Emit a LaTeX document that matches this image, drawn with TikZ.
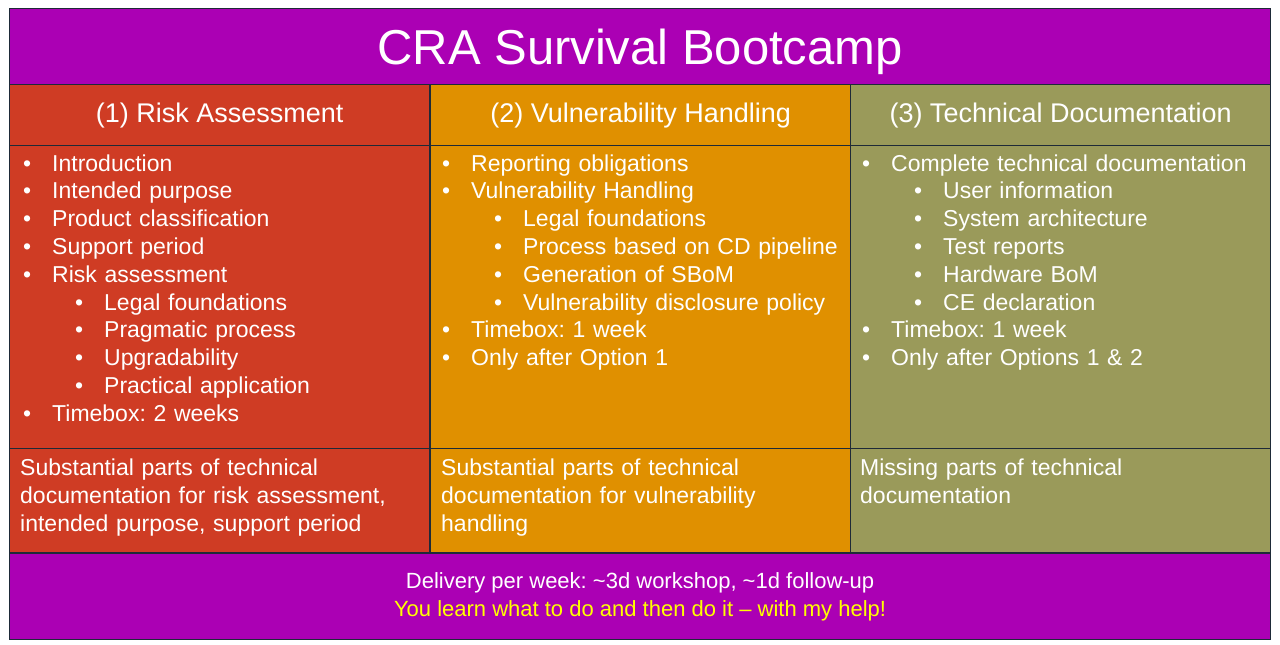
\documentclass[tikz,border=0pt]{standalone}
\usepackage{fontspec}
\setmainfont{Liberation Sans}
\usepackage{enumitem}
\setlist[itemize,1]{label=\textbullet, align=left, labelindent=0pt, labelwidth=14pt, labelsep=15pt, leftmargin=!, itemsep=0pt, topsep=0pt, parsep=0pt, partopsep=0pt}
\setlist[itemize,2]{label=\textbullet, align=left, labelindent=23pt, labelwidth=14pt, labelsep=15pt, leftmargin=!, itemsep=0pt, topsep=0pt, parsep=0pt, partopsep=0pt}
\frenchspacing

\definecolor{bootpurple}{HTML}{AB00B4}
\definecolor{riskred}{HTML}{CF3C24}
\definecolor{vulnorange}{HTML}{E09000}
\definecolor{docolive}{HTML}{9A9A5A}
\definecolor{gridline}{HTML}{1E2A38}
\definecolor{helpyellow}{HTML}{FFFF00}

\begin{document}
\begin{tikzpicture}[x=1pt, y=-1pt,
  cell/.style = {draw=gridline, line width=1.2pt, inner sep=0pt, anchor=north west, text=white},
  titlecell/.style = {cell, fill=bootpurple, minimum width=1261pt, minimum height=76pt, font=\fontsize{49}{56}\selectfont},
  headcell/.style = {cell, minimum width=420pt, minimum height=61pt, font=\fontsize{27}{32}\selectfont},
  bodycell/.style = {cell, minimum width=420pt, minimum height=303pt},
  outcell/.style = {cell, minimum width=420pt, minimum height=104pt},
  footcell/.style = {cell, fill=bootpurple, minimum width=1261pt, minimum height=86pt, align=center, font=\fontsize{22}{28}\selectfont},
  listtext/.style = {anchor=north west, inner sep=0pt, text=white, text width=400pt, align=left, font=\fontsize{23}{27.8}\selectfont},
  outtext/.style = {listtext},
  ]
  \useasboundingbox (0,0) rectangle (1280,645);

  \node[titlecell, text depth=0pt, text height=36pt] (title) at (9,8) {CRA Survival Bootcamp};

  \node[headcell, fill=riskred] (headA) at (9,84) {(1) Risk Assessment};
  \node[headcell, fill=vulnorange] (headB) at (430,84) {(2) Vulnerability Handling};
  \node[headcell, fill=docolive] (headC) at (850,84) {(3) Technical Documentation};

  \node[bodycell, fill=riskred] (bodyA) at (9,145) {};
  \node[bodycell, fill=vulnorange] (bodyB) at (430,145) {};
  \node[bodycell, fill=docolive] (bodyC) at (850,145) {};

  \node[outcell, fill=riskred] (outA) at (9,448) {};
  \node[outcell, fill=vulnorange] (outB) at (430,448) {};
  \node[outcell, fill=docolive] (outC) at (850,448) {};

  \node[footcell] (delivery) at (9,553) {Delivery per week: \textasciitilde3d workshop, \textasciitilde1d follow-up\\
    \textcolor{helpyellow}{You learn what to do and then do it -- with my help!}};

  \node[listtext] (listA) at ([shift={(14,-2)}]bodyA.north west) {%
    \begin{itemize}
      \item Introduction
      \item Intended purpose
      \item Product classification
      \item Support period
      \item Risk assessment
      \begin{itemize}
        \item Legal foundations
        \item Pragmatic process
        \item Upgradability
        \item Practical application
      \end{itemize}
      \item Timebox: 2 weeks
    \end{itemize}};
  \node[listtext] (listB) at ([shift={(12,-2)}]bodyB.north west) {%
    \begin{itemize}
      \item Reporting obligations
      \item Vulnerability Handling
      \begin{itemize}
        \item Legal foundations
        \item Process based on CD pipeline
        \item Generation of SBoM
        \item Vulnerability disclosure policy
      \end{itemize}
      \item Timebox: 1 week
      \item Only after Option 1
    \end{itemize}};
  \node[listtext] (listC) at ([shift={(12,-2)}]bodyC.north west) {%
    \begin{itemize}
      \item Complete technical documentation
      \begin{itemize}
        \item User information
        \item System architecture
        \item Test reports
        \item Hardware BoM
        \item CE declaration
      \end{itemize}
      \item Timebox: 1 week
      \item Only after Options 1 \& 2
    \end{itemize}};

  \node[outtext] (gainA) at ([shift={(11,11)}]outA.north west) {Substantial parts of technical\\ documentation for risk assessment,\\ intended purpose, support period};
  \node[outtext] (gainB) at ([shift={(11,11)}]outB.north west) {Substantial parts of technical\\ documentation for vulnerability\\ handling};
  \node[outtext] (gainC) at ([shift={(10,11)}]outC.north west) {Missing parts of technical\\ documentation};
\end{tikzpicture}
\end{document}
